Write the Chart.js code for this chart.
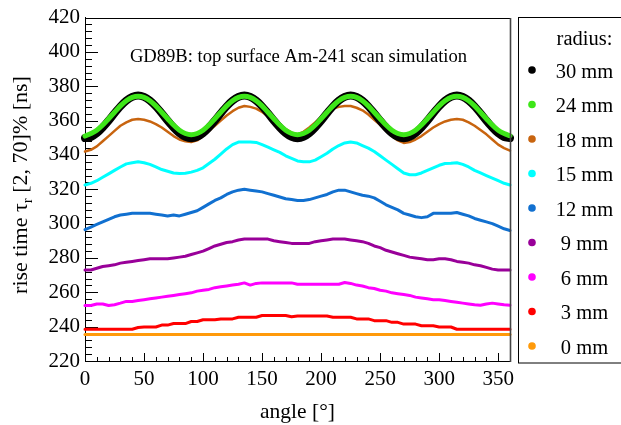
<!DOCTYPE html>
<html>
<head>
<meta charset="utf-8">
<script src="https://cdn.jsdelivr.net/npm/chart.js@4.4.1/dist/chart.umd.min.js"></script>
<style>
  html, body { margin: 0; padding: 0; background: #fff; font-family: "Liberation Serif", serif; }
  canvas { display: block; }
</style>
</head>
<body>
<canvas id="chart" width="621" height="425"></canvas>
<script>
// scan angle in degrees
const angles = [
  0, 5, 10, 15, 20, 25, 30, 35, 40, 45, 50, 55, 60, 65, 70, 75, 80, 85, 90,
  95, 100, 105, 110, 115, 120, 125, 130, 135, 140, 145, 150, 155, 160, 165, 170, 175, 180,
  185, 190, 195, 200, 205, 210, 215, 220, 225, 230, 235, 240, 245, 250, 255, 260, 265, 270,
  275, 280, 285, 290, 295, 300, 305, 310, 315, 320, 325, 330, 335, 340, 345, 350, 355, 360
];

// rise time [ns] per radius
const rise30 = [
  349.9, 350.5, 352.7, 356.0, 360.0, 364.3, 368.3, 371.6, 373.8, 374.6, 373.8, 371.6, 368.3, 364.3, 360.0, 356.0, 352.7, 350.5, 349.8,
  350.5, 352.7, 356.0, 360.0, 364.3, 368.3, 371.6, 373.8, 374.6, 373.8, 371.6, 368.3, 364.3, 360.0, 356.0, 352.7, 350.5, 349.8,
  350.5, 352.7, 356.0, 360.0, 364.3, 368.3, 371.6, 373.8, 374.6, 373.8, 371.6, 368.3, 364.3, 360.0, 356.0, 352.7, 350.5, 349.8,
  350.5, 352.7, 356.0, 360.0, 364.3, 368.3, 371.6, 373.8, 374.6, 373.8, 371.6, 368.3, 364.3, 360.0, 356.0, 352.7, 350.5, 349.9
];
const rise24 = [
  351.0, 352.5, 354.4, 357.4, 361.1, 364.9, 368.6, 371.6, 373.5, 374.2, 373.5, 371.6, 368.6, 364.9, 361.1, 357.4, 354.4, 352.5, 351.8,
  352.5, 354.4, 357.4, 361.1, 364.9, 368.6, 371.6, 373.5, 374.2, 373.5, 371.6, 368.6, 364.9, 361.1, 357.4, 354.4, 352.5, 351.8,
  352.5, 354.4, 357.4, 361.1, 364.9, 368.6, 371.6, 373.5, 374.2, 373.5, 371.6, 368.6, 364.9, 361.1, 357.4, 354.4, 352.5, 351.8,
  352.5, 354.4, 357.4, 361.1, 364.9, 368.6, 371.6, 373.5, 374.2, 373.5, 371.6, 368.6, 364.9, 361.1, 357.4, 354.4, 352.5, 351.2
];
const rise18 = [
  342.0, 343.0, 345.0, 348.0, 351.0, 354.0, 357.0, 359.0, 360.5, 361.0, 360.5, 359.5, 358.0, 356.0, 353.5, 351.0, 349.0, 348.0, 347.5,
  348.5, 351.0, 354.0, 357.0, 360.0, 363.0, 365.5, 367.5, 368.5, 368.0, 367.0, 365.0, 362.5, 360.0, 357.5, 355.0, 353.0, 352.0,
  353.5, 356.0, 359.0, 362.0, 365.0, 367.0, 368.0, 368.5, 368.5, 367.5, 366.0, 363.5, 360.5, 357.5, 354.0, 351.0, 348.5, 347.0,
  347.5, 349.0, 351.0, 353.5, 356.0, 358.0, 359.5, 360.5, 361.0, 360.5, 359.0, 357.0, 354.5, 352.0, 349.0, 346.0, 344.0, 342.5
];
const rise15 = [
  322.5, 323.5, 325.0, 327.0, 329.0, 331.0, 333.0, 334.8, 335.5, 336.0, 335.5, 334.5, 333.0, 331.5, 330.5, 329.5, 329.2, 329.3, 330.0,
  331.0, 332.5, 335.0, 337.5, 340.5, 343.5, 346.0, 347.5, 347.5, 347.5, 347.3, 346.0, 344.5, 343.0, 341.5, 339.5, 338.0, 336.5,
  336.0, 336.0, 337.0, 339.0, 341.0, 343.5, 345.5, 347.0, 347.5, 347.0, 345.5, 344.0, 342.0, 339.5, 337.0, 334.5, 332.0, 329.5,
  328.5, 328.5, 329.5, 331.0, 332.5, 334.0, 335.0, 335.2, 335.5, 334.5, 333.0, 331.0, 329.5, 328.0, 326.5, 325.0, 323.5, 322.5
];
const rise12 = [
  296.5, 298.0, 299.5, 301.0, 302.5, 304.0, 305.0, 305.5, 306.0, 306.0, 306.0, 306.0, 305.5, 305.0, 304.5, 305.0, 304.5, 305.5, 306.5,
  307.5, 309.5, 311.5, 313.5, 315.0, 317.0, 318.5, 319.5, 320.0, 319.5, 319.0, 318.5, 317.5, 316.5, 315.5, 314.5, 314.0, 313.5,
  313.5, 314.0, 315.0, 316.0, 317.0, 318.5, 319.5, 319.5, 318.5, 317.5, 316.5, 316.0, 315.0, 313.0, 311.0, 309.5, 308.0, 306.0,
  305.0, 304.0, 303.5, 304.0, 306.0, 306.0, 306.0, 306.0, 306.5, 305.5, 304.5, 303.0, 302.0, 301.0, 300.0, 298.5, 297.0, 296.0
];
const rise9 = [
  273.0, 273.0, 274.0, 275.0, 275.5, 276.0, 277.0, 277.5, 278.0, 278.5, 279.0, 279.5, 279.5, 279.5, 279.5, 280.0, 280.5, 281.0, 282.0,
  283.0, 284.0, 285.5, 287.0, 288.0, 289.0, 289.5, 290.5, 291.0, 291.0, 291.0, 291.0, 291.0, 290.0, 289.5, 289.0, 288.5, 288.5,
  288.5, 288.5, 289.5, 290.0, 290.5, 291.0, 291.0, 291.0, 290.5, 290.0, 289.5, 288.5, 287.0, 286.0, 284.5, 283.5, 282.5, 281.5,
  280.5, 280.0, 279.5, 279.0, 279.0, 279.5, 279.5, 279.0, 278.0, 277.5, 277.0, 276.0, 275.5, 274.5, 273.5, 273.0, 273.0, 273.0
];
const rise6 = [
  252.3, 252.3, 253.2, 253.2, 252.3, 252.8, 253.7, 254.7, 254.7, 255.2, 255.7, 256.2, 256.7, 257.2, 257.7, 258.2, 258.7, 259.2, 259.7,
  260.7, 261.2, 261.7, 262.7, 263.2, 263.7, 264.2, 264.7, 265.5, 264.2, 265.2, 265.5, 265.5, 265.5, 265.5, 265.5, 265.5, 264.7,
  264.7, 264.7, 264.7, 264.7, 264.7, 264.7, 264.7, 265.7, 265.2, 264.2, 263.7, 262.7, 262.2, 261.2, 260.7, 259.7, 259.2, 258.7,
  258.2, 257.2, 256.7, 256.2, 255.7, 255.7, 255.2, 254.7, 254.2, 253.7, 253.2, 252.7, 252.5, 253.2, 253.7, 253.2, 252.7, 252.5
];
const rise3 = [
  238.5, 238.5, 238.5, 238.5, 238.5, 238.5, 238.5, 238.5, 238.5, 239.5, 239.8, 239.8, 239.8, 240.9, 240.9, 241.8, 241.8, 241.8, 243.0,
  243.0, 244.0, 244.0, 244.0, 244.5, 244.5, 244.5, 245.5, 245.5, 245.5, 245.5, 246.5, 246.5, 246.5, 246.5, 246.5, 245.8, 246.2,
  246.2, 246.2, 246.2, 246.2, 246.2, 245.5, 245.5, 245.5, 245.5, 244.5, 244.5, 244.5, 243.5, 243.5, 243.5, 242.5, 242.5, 241.5,
  241.5, 241.5, 240.5, 240.5, 240.5, 239.8, 239.8, 239.8, 238.5, 238.5, 238.5, 238.5, 238.5, 238.5, 238.5, 238.5, 238.5, 238.5
];
const rise0 = [
  235.4, 235.4, 235.4, 235.4, 235.4, 235.4, 235.4, 235.4, 235.4, 235.4, 235.4, 235.4, 235.4, 235.4, 235.4, 235.4, 235.4, 235.4, 235.4,
  235.4, 235.4, 235.4, 235.4, 235.4, 235.4, 235.4, 235.4, 235.4, 235.4, 235.4, 235.4, 235.4, 235.4, 235.4, 235.4, 235.4, 235.4,
  235.4, 235.4, 235.4, 235.4, 235.4, 235.4, 235.4, 235.4, 235.4, 235.4, 235.4, 235.4, 235.4, 235.4, 235.4, 235.4, 235.4, 235.4,
  235.4, 235.4, 235.4, 235.4, 235.4, 235.4, 235.4, 235.4, 235.4, 235.4, 235.4, 235.4, 235.4, 235.4, 235.4, 235.4, 235.4, 235.4
];

const radii = ['30 mm', '24 mm', '18 mm', '15 mm', '12 mm', '9 mm', '6 mm', '3 mm', '0 mm'];
const colors = ['#000000', '#3ee619', '#c8640f', '#00ffff', '#1170d0', '#990099', '#ff00ff', '#ff0000', '#ff9a0a'];
const series = [rise30, rise24, rise18, rise15, rise12, rise9, rise6, rise3, rise0];
const lineWidths = [8, 5, 2.5, 3, 3, 3, 3, 3, 3];
// lower number is drawn on top: green over black over the rest
const drawOrder = [1, 0, 2, 3, 4, 5, 6, 7, 8];

const yTicks = [220, 240, 260, 280, 300, 320, 340, 360, 380, 400, 420];
const xTicks = [0, 50, 100, 150, 200, 250, 300, 350];

const SERIF = 'Liberation Serif';
Chart.defaults.font.family = SERIF;
Chart.defaults.color = '#000';

// inward ROOT-style ticks, drawn under the data
const axisTicks = {
  id: 'axisTicks',
  beforeDatasetsDraw(chart) {
    const { ctx, chartArea: a, scales: { x, y } } = chart;
    ctx.save();
    ctx.strokeStyle = '#000';
    ctx.lineWidth = 1;
    ctx.beginPath();
    for (let v = y.min; v <= y.max; v += 4) {
      const py = Math.round(y.getPixelForValue(v)) + 0.5;
      const len = v % 20 === 0 ? 13 : 7;
      ctx.moveTo(a.left, py);
      ctx.lineTo(a.left + len, py);
    }
    for (let v = x.min; v <= x.max; v += 10) {
      const px = Math.round(x.getPixelForValue(v)) + 0.5;
      const len = v % 50 === 0 ? 8 : 4;
      ctx.moveTo(px, a.bottom);
      ctx.lineTo(px, a.bottom - len);
    }
    ctx.stroke();
    ctx.restore();
  }
};

// frame, titles and the legend box
const decorations = {
  id: 'decorations',
  afterDraw(chart) {
    const { ctx, chartArea: a } = chart;
    ctx.save();

    // top and right frame
    ctx.strokeStyle = '#000';
    ctx.lineWidth = 1;
    ctx.beginPath();
    ctx.moveTo(Math.round(a.left) + 0.5, Math.round(a.top) + 0.5);
    ctx.lineTo(Math.round(a.right) + 0.5, Math.round(a.top) + 0.5);
    ctx.stroke();
    ctx.strokeStyle = '#444';
    ctx.lineWidth = 1.6;
    ctx.beginPath();
    ctx.moveTo(Math.round(a.right) + 0.5, Math.round(a.top));
    ctx.lineTo(Math.round(a.right) + 0.5, Math.round(a.bottom) + 1);
    ctx.stroke();

    ctx.fillStyle = '#000';

    // text inside the plot
    ctx.font = '18.6px ' + SERIF;
    ctx.textAlign = 'center';
    ctx.textBaseline = 'alphabetic';
    ctx.fillText('GD89B: top surface Am-241 scan simulation', (a.left + a.right) / 2 + 1, 61.5);

    // x axis title
    ctx.font = '21.5px ' + SERIF;
    ctx.fillText('angle [°]', (a.left + a.right) / 2, 418);

    // y axis title with subscript
    ctx.save();
    ctx.translate(26.5, 185);
    ctx.rotate(-Math.PI / 2);
    const big = '22px ' + SERIF, small = '15px ' + SERIF;
    const parts = [['rise time τ', big, 0], ['r', small, 5], [' [2, 70]% [ns]', big, 0]];
    let total = 0;
    parts.forEach(p => { ctx.font = p[1]; total += ctx.measureText(p[0]).width; });
    let cx = -total / 2;
    ctx.textAlign = 'left';
    parts.forEach(p => {
      ctx.font = p[1];
      ctx.fillText(p[0], cx, p[2]);
      cx += ctx.measureText(p[0]).width;
    });
    ctx.restore();

    // legend
    ctx.strokeStyle = '#000';
    ctx.lineWidth = 1;
    ctx.strokeRect(518.5, 17.5, 140, 345.5);
    ctx.textAlign = 'center';
    ctx.font = '20.5px ' + SERIF;
    ctx.fillText('radius:', 584.5, 44.5);
    chart.data.datasets.forEach((ds, i) => {
      const yy = 70 + i * 34.5;
      ctx.fillStyle = ds.borderColor;
      ctx.beginPath();
      ctx.arc(532, yy, 3.8, 0, Math.PI * 2);
      ctx.fill();
      ctx.fillStyle = '#000';
      ctx.fillText(ds.label, 584.5, yy + 7.5);
    });

    ctx.restore();
  }
};

const datasets = series.map((vals, i) => ({
  label: radii[i],
  data: angles.map((a, k) => ({ x: a, y: vals[k] })),
  borderColor: colors[i],
  backgroundColor: colors[i],
  borderWidth: lineWidths[i],
  pointRadius: 0,
  borderCapStyle: 'round',
  borderJoinStyle: 'round',
  tension: i < 2 ? 0.3 : 0,
  clip: 4,
  order: drawOrder[i]
}));

new Chart(document.getElementById('chart'), {
  type: 'line',
  data: { datasets: datasets },
  options: {
    responsive: false,
    animation: false,
    events: [],
    layout: { padding: { left: 0, top: 17, right: 111, bottom: 0 } },
    plugins: { legend: { display: false }, tooltip: { enabled: false } },
    scales: {
      x: {
        type: 'linear',
        min: 0,
        max: 360,
        afterFit: s => { s.height = 64; },
        afterBuildTicks: s => { s.ticks = xTicks.map(v => ({ value: v })); },
        ticks: { color: '#000', font: { family: SERIF, size: 21 }, padding: 6, maxRotation: 0 },
        grid: { drawOnChartArea: false, drawTicks: false },
        border: { color: '#000', width: 1 }
      },
      y: {
        min: 220,
        max: 420,
        afterFit: s => { s.width = 85; },
        afterBuildTicks: s => { s.ticks = yTicks.map(v => ({ value: v })); },
        ticks: { color: '#000', font: { family: SERIF, size: 21 }, padding: 5 },
        grid: { drawOnChartArea: false, drawTicks: false },
        border: { color: '#000', width: 1 }
      }
    }
  },
  plugins: [axisTicks, decorations]
});
</script>
</body>
</html>
